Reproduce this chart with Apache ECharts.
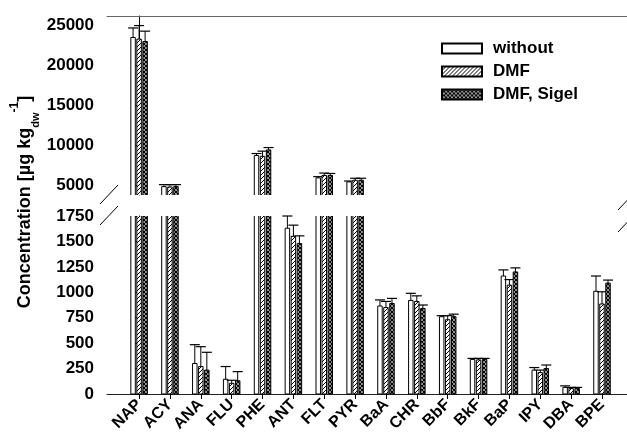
<!DOCTYPE html>
<html>
<head>
<meta charset="utf-8">
<title>PAH concentration</title>
<script src="https://cdn.jsdelivr.net/npm/echarts@6/dist/echarts.min.js"></script>
</head>
<body style="margin:0">
<div id="main" style="width:627px;height:440px"></div>
<script>
// categories and values (µg kg-1 dw), error = upper whisker length
var categories = ['NAP','ACY','ANA','FLU','PHE','ANT','FLT','PYR','BaA','CHR','BbF','BkF','BaP','IPY','DBA','BPE'];
var without    = [23500, 4800, 300, 145, 8700, 1630, 5900, 5400, 865, 920, 760, 340, 1160, 235, 65, 1010];
var withoutErr = [1200, 250, 185, 125, 250, 120, 150, 100, 60, 70, 10, 10, 60, 25, 15, 150];
var dmf        = [23300, 4750, 270, 105, 8600, 1550, 6200, 5600, 850, 910, 730, 335, 1070, 210, 55, 885];
var dmfErr     = [1700, 300, 195, 30, 650, 110, 300, 250, 60, 55, 40, 15, 55, 25, 10, 120];
var sigel      = [23000, 4800, 235, 130, 9400, 1480, 6200, 5600, 890, 840, 760, 340, 1200, 250, 55, 1090];
var sigelErr   = [1300, 250, 175, 90, 300, 75, 250, 250, 50, 35, 25, 10, 40, 35, 10, 30];
var upperTicks = [5000, 10000, 15000, 20000, 25000];
var catIdx = categories.map(function (c, i) { return i; });

var FONT = '"Liberation Sans", Arial, sans-serif';

function pattern(kind) {
  var c = document.createElement('canvas');
  c.width = 4; c.height = 4;
  var g = c.getContext('2d');
  g.fillStyle = '#fff';
  g.fillRect(0, 0, 4, 4);
  if (kind > 0) {
    g.strokeStyle = '#000';
    g.lineWidth = kind == 2 ? 1.3 : 1;
    g.beginPath();
    g.moveTo(-1, 5); g.lineTo(5, -1);
    g.moveTo(-1, 1); g.lineTo(1, -1);
    g.moveTo(3, 5); g.lineTo(5, 3);
    if (kind == 2) {
      g.moveTo(-1, -1); g.lineTo(5, 5);
      g.moveTo(-1, 3); g.lineTo(1, 5);
      g.moveTo(3, -1); g.lineTo(5, 1);
    }
    g.stroke();
  }
  return { image: c, repeat: 'repeat' };
}
var fills = [pattern(0), pattern(1), pattern(2)];

function makeRender(k, lo, hi) {
  return function (params, api) {
    var i = api.value(0), v = api.value(1), e = api.value(2);
    if (v <= lo) return;
    var band = api.size([1, 0])[0];
    var w = band * 0.145, step = band * 0.195;
    var cx = api.coord([i, lo])[0] + (k - 1) * step;
    var x0 = cx - w / 2, x1 = cx + w / 2;
    var yb = api.coord([i, lo])[1];
    var yt = api.coord([i, Math.min(v, hi)])[1];
    var kids = [{
      type: 'rect',
      shape: { x: x0, y: yt, width: w, height: yb - yt },
      style: { fill: fills[k], stroke: null }
    }];
    var pts;
    if (lo > 0) pts = [[x0, yb], [x0, yt], [x1, yt], [x1, yb]];
    else if (v > hi) pts = [[x0, yt], [x0, yb], [x1, yb], [x1, yt]];
    else pts = [[x0, yb], [x0, yt], [x1, yt], [x1, yb], [x0, yb]];
    kids.push({ type: 'polyline', shape: { points: pts }, style: { stroke: '#000', lineWidth: 1, fill: null } });
    if (v + e <= hi + 1) {
      var ye = api.coord([i, v + e])[1];
      kids.push({ type: 'line', shape: { x1: cx, y1: yt, x2: cx, y2: ye }, style: { stroke: '#000', lineWidth: 1 } });
      kids.push({ type: 'line', shape: { x1: cx - 5, y1: ye, x2: cx + 5, y2: ye }, style: { stroke: '#000', lineWidth: 1.2 } });
    }
    return { type: 'group', children: kids };
  };
}

var names = ['without', 'DMF', 'DMF, Sigel'];
var vals = [without, dmf, sigel];
var errs = [withoutErr, dmfErr, sigelErr];
var series = [];
[[0, 3750, 26200], [1, 0, 1750]].forEach(function (gr) {
  for (var k = 0; k < 3; k++) {
    series.push({
      type: 'custom',
      name: names[k],
      xAxisIndex: gr[0],
      yAxisIndex: gr[0],
      renderItem: makeRender(k, gr[1], gr[2]),
      itemStyle: { color: fills[k], borderColor: '#000', borderWidth: 1 },
      encode: { x: 0, y: 1 },
      data: catIdx.map(function (i) { return [i, vals[k][i], errs[k][i]]; })
    });
  }
});

var labelStyle = {
  color: '#000', fontWeight: 'bold', fontSize: 17, fontFamily: FONT,
  formatter: function (v) { return String(v); }
};

var myChart = echarts.init(document.getElementById('main'));
var option = {
  animation: false,
  backgroundColor: '#fff',
  grid: [
    { left: 107, right: 0, top: 16, height: 179 },
    { left: 107, right: 0, top: 216, height: 178 }
  ],
  legend: {
    orient: 'vertical',
    left: 436,
    top: 35,
    icon: 'rect',
    itemWidth: 40,
    itemHeight: 10,
    itemGap: 6,
    data: names,
    textStyle: { color: '#000', fontWeight: 'bold', fontSize: 17, fontFamily: FONT, padding: [0, 0, 0, 6] }
  },
  xAxis: [
    {
      gridIndex: 0, type: 'value', min: -1.04, max: 15.81, position: 'top',
      axisLine: { show: true, lineStyle: { color: '#666', width: 1 } },
      axisTick: { show: false }, axisLabel: { show: false }, splitLine: { show: false }
    },
    {
      gridIndex: 1, type: 'value', min: -1.04, max: 15.81,
      axisLine: { show: true, onZero: false, lineStyle: { color: '#222', width: 1 } },
      axisTick: { show: true, length: 5, customValues: catIdx, lineStyle: { color: '#000' } },
      axisLabel: {
        customValues: catIdx, rotate: 45, margin: 8,
        formatter: function (v) { return categories[v]; },
        color: '#000', fontWeight: 'bold', fontSize: 16, fontFamily: FONT
      },
      splitLine: { show: false }
    }
  ],
  yAxis: [
    {
      gridIndex: 0, type: 'value', min: 3750, max: 26200,
      axisLine: { show: true, lineStyle: { color: '#000', width: 1 } },
      axisTick: { show: true, length: 5, customValues: upperTicks, lineStyle: { color: '#000' } },
      axisLabel: Object.assign({ customValues: upperTicks, margin: 13 }, labelStyle),
      splitLine: { show: false }
    },
    {
      gridIndex: 1, type: 'value', min: 0, max: 1750, interval: 250,
      axisLine: { show: true, lineStyle: { color: '#000', width: 1 } },
      axisTick: { show: true, length: 5, lineStyle: { color: '#000' } },
      axisLabel: Object.assign({ margin: 13, showMaxLabel: true }, labelStyle),
      splitLine: { show: false }
    }
  ],
  graphic: [
    {
      type: 'text', x: 25, y: 202, rotation: Math.PI / 2,
      style: {
        text: '{m|Concentration [µg kg}{sub|dw}{sup|-1}{m|]}',
        align: 'center', verticalAlign: 'middle',
        rich: {
          m: { fontSize: 18, fontWeight: 'bold', fontFamily: FONT, fill: '#000', lineHeight: 32 },
          sub: { fontSize: 11, fontWeight: 'bold', fontFamily: FONT, fill: '#000', verticalAlign: 'bottom', lineHeight: 14 },
          sup: { fontSize: 12, fontWeight: 'bold', fontFamily: FONT, fill: '#000', verticalAlign: 'top', lineHeight: 14 }
        }
      }
    },
    // axis break marks
    { type: 'line', shape: { x1: 100, y1: 204, x2: 118, y2: 185 }, style: { stroke: '#000', lineWidth: 1 } },
    { type: 'line', shape: { x1: 100, y1: 225, x2: 118, y2: 206 }, style: { stroke: '#000', lineWidth: 1 } },
    { type: 'line', shape: { x1: 618, y1: 210, x2: 636, y2: 191 }, style: { stroke: '#000', lineWidth: 1 } },
    { type: 'line', shape: { x1: 618, y1: 232, x2: 636, y2: 213 }, style: { stroke: '#000', lineWidth: 1 } }
  ],
  series: series
};
myChart.setOption(option);
</script>
</body>
</html>
